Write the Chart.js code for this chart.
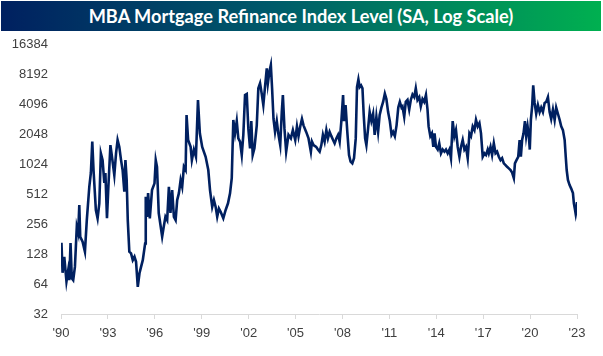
<!DOCTYPE html>
<html>
<head>
<meta charset="utf-8">
<script src="https://cdn.jsdelivr.net/npm/chart.js@4.4.1/dist/chart.umd.min.js"></script>
<style>
  html, body { margin: 0; padding: 0; background: #ffffff; }
  #wrap { position: relative; width: 603px; height: 356px; overflow: hidden; }
  #title {
    position: absolute; left: 1px; top: 1px; width: 600px; height: 30px;
    background: linear-gradient(to right, #002060 0%, #005a6a 45%, #00b050 100%);
    color: #ffffff; font-family: Lato, "Open Sans", sans-serif; font-weight: bold;
    font-size: 18.2px; line-height: 30px; text-align: center; white-space: nowrap;
  }
  canvas { position: absolute; left: 0; top: 0; }
</style>
</head>
<body>
<div id="wrap">
  <canvas id="c" width="603" height="356"></canvas>
  <div id="title">MBA Mortgage Refinance Index Level (SA, Log Scale)</div>
</div>
<script>
const chartTitle = "MBA Mortgage Refinance Index Level (SA, Log Scale)";
const yTickValues = [32, 64, 128, 256, 512, 1024, 2048, 4096, 8192, 16384];
const xTickYears = [1990, 1993, 1996, 1999, 2002, 2005, 2008, 2011, 2014, 2017, 2020, 2023];

const dates = [
1990.03,1990.10,1990.21,1990.35,1990.46,1990.53,1990.61,1990.69,1990.78,1990.89,1990.95,
1991.01,1991.10,1991.17,1991.23,1991.38,1991.53,1991.65,1991.81,1991.91,
1992.00,1992.08,1992.23,1992.34,1992.45,1992.55,1992.66,1992.77,1992.84,1992.94,
1993.03,1993.16,1993.26,1993.41,1993.52,1993.62,1993.73,1993.84,1993.94,
1994.05,1994.12,1994.20,1994.27,1994.37,1994.48,1994.59,1994.70,1994.80,1994.91,
1995.02,1995.12,1995.23,1995.38,1995.42,1995.50,1995.57,1995.68,1995.82,1995.98,
1996.06,1996.14,1996.25,1996.47,1996.57,1996.68,1996.79,1996.90,
1997.00,1997.11,1997.22,1997.33,1997.43,1997.54,1997.65,1997.75,1997.86,1997.97,
1998.03,1998.13,1998.29,1998.37,1998.50,1998.63,1998.76,1998.88,
1999.03,1999.25,1999.42,1999.53,1999.67,1999.78,1999.89,1999.99,
2000.10,2000.21,2000.38,2000.53,2000.68,2000.81,2000.92,
2001.02,2001.13,2001.24,2001.34,2001.45,2001.56,2001.66,2001.77,2001.88,2001.98,
2002.09,2002.17,2002.26,2002.37,2002.52,2002.62,2002.73,2002.84,2002.94,
2003.05,2003.16,2003.23,2003.33,2003.42,2003.50,2003.59,2003.69,2003.80,2003.91,
2004.02,2004.12,2004.19,2004.29,2004.40,2004.55,2004.70,2004.83,2004.98,
2005.09,2005.19,2005.30,2005.41,2005.51,2005.68,2005.83,2005.98,
2006.05,2006.15,2006.32,2006.43,2006.54,2006.65,2006.75,2006.86,2006.97,
2007.07,2007.18,2007.29,2007.40,2007.50,2007.61,2007.72,2007.82,2007.93,
2008.04,2008.10,2008.20,2008.31,2008.42,2008.52,2008.63,2008.74,2008.85,2008.93,
2009.02,2009.10,2009.19,2009.28,2009.36,2009.45,2009.53,2009.64,2009.74,2009.85,2009.96,
2010.06,2010.17,2010.28,2010.38,2010.49,2010.60,2010.71,2010.81,2010.92,
2011.03,2011.14,2011.24,2011.35,2011.46,2011.57,2011.67,2011.78,2011.84,2011.95,
2012.05,2012.16,2012.27,2012.37,2012.48,2012.59,2012.69,2012.80,2012.91,
2013.01,2013.12,2013.23,2013.34,2013.44,2013.51,2013.62,2013.72,2013.81,2013.89,2013.98,
2014.09,2014.19,2014.30,2014.41,2014.52,2014.62,2014.73,2014.84,2014.94,
2015.05,2015.16,2015.26,2015.37,2015.48,2015.58,2015.69,2015.80,2015.90,
2016.01,2016.12,2016.22,2016.33,2016.44,2016.54,2016.65,2016.76,2016.86,2016.97,
2017.08,2017.18,2017.29,2017.36,2017.47,2017.57,2017.68,2017.79,2017.89,
2018.00,2018.11,2018.21,2018.32,2018.43,2018.53,2018.64,2018.75,2018.85,2018.96,
2019.03,2019.13,2019.24,2019.33,2019.41,2019.49,2019.58,2019.67,2019.75,2019.84,2019.92,2019.98,
2020.05,2020.13,2020.20,2020.29,2020.39,2020.50,2020.61,2020.71,2020.82,2020.93,
2021.03,2021.14,2021.25,2021.35,2021.46,2021.57,2021.67,2021.78,2021.89,2021.99,
2022.10,2022.21,2022.28,2022.34,2022.42,2022.52,2022.63,2022.74,2022.80,2022.86,2022.92,2022.97,
2023.00
];

const refiIndex = [
166,83,120,68,88,70,165,73,70,95,151,
240,208,396,191,170,135,280,605,832,
1715,891,354,292,413,1312,1120,662,832,292,
605,1585,1210,792,1312,1782,1520,1120,891,
541,1120,708,280,135,130,111,120,107,60,
82,95,111,163,481,302,522,292,560,655,
1120,960,330,191,240,302,280,605,
330,560,302,280,445,522,708,605,960,891,
3170,1782,1520,1120,1429,1210,4480,2080,
1520,1210,891,560,380,445,380,302,
366,340,292,354,413,520,740,
2834,2080,2760,1850,1715,1260,2010,5040,5160,2330,
1470,2760,1260,1470,2500,5880,6600,5160,4000,
6150,9350,6600,8700,10080,5880,2900,2150,2760,2010,
1585,3400,5040,2330,1360,2010,1850,2240,1782,
2440,1950,2440,2900,2500,2150,1850,1360,
1715,1585,1520,1430,1360,1585,2010,1715,2240,
1850,2150,1950,1782,1650,1850,2010,1715,2760,
5040,2760,4000,2150,1260,1080,1040,1170,1850,6050,
7230,6050,6300,5880,3180,1850,1585,2330,3400,2760,3270,
2010,3050,2150,3180,3770,4300,5200,4590,3400,
2760,2010,2150,1950,2500,3770,4300,3770,3870,3050,
4300,4500,3600,4500,5100,4800,5880,4500,4800,
3870,4600,4300,5040,3600,2440,1950,2080,1520,2080,1520,
1430,1650,1310,1430,1360,1430,1310,1430,1170,
2760,1950,2240,1520,1210,1520,1782,1430,1520,
1170,2080,1950,2440,2240,2834,2440,2630,2080,1210,
1310,1260,1430,1310,1520,1260,1650,1310,1360,
1210,1120,1170,1040,1000,960,925,891,840,740,
1040,1120,1210,1782,1210,1782,2080,2760,1950,2440,1950,1430,
2834,3870,6300,4200,3270,4000,3400,3770,3400,4200,
4300,4800,3400,2900,3600,2834,3770,3270,2834,2440,
2240,1782,1210,891,708,633,580,522,413,366,320,354,
425
];

const points = dates.map((d, i) => ({ x: d, y: refiIndex[i] }));
const tickFont = { family: '"Liberation Sans", Arial, sans-serif', size: 13 };

new Chart(document.getElementById('c'), {
  type: 'line',
  data: {
    datasets: [{
      label: chartTitle,
      data: points,
      borderColor: '#002060',
      borderWidth: 2.6,
      pointRadius: 0,
      tension: 0,
      fill: false
    }]
  },
  options: {
    responsive: false,
    animation: false,
    layout: { padding: { left: 0, right: 26, top: 44, bottom: 0 } },
    plugins: { legend: { display: false }, tooltip: { enabled: false }, title: { display: false } },
    scales: {
      x: {
        type: 'linear',
        min: xTickYears[0],
        max: xTickYears[xTickYears.length - 1],
        afterBuildTicks: s => { s.ticks = xTickYears.map(v => ({ value: v })); },
        afterFit: s => { s.height = 42; },
        ticks: {
          callback: v => "'" + String(v).slice(2),
          font: tickFont, color: '#404040', padding: 7, maxRotation: 0, autoSkip: false
        },
        grid: { display: true, drawOnChartArea: false, drawTicks: true, tickLength: 5, color: '#d9d9d9', lineWidth: 1 },
        border: { display: true, color: '#d9d9d9', width: 1 }
      },
      y: {
        type: 'logarithmic',
        min: yTickValues[0],
        max: yTickValues[yTickValues.length - 1],
        afterBuildTicks: s => { s.ticks = yTickValues.map(v => ({ value: v })); },
        afterFit: s => { s.width = 61; },
        ticks: {
          callback: v => String(v),
          font: tickFont, color: '#404040', padding: 13
        },
        grid: { display: false, drawTicks: false },
        border: { display: false }
      }
    }
  }
});
</script>
</body>
</html>
